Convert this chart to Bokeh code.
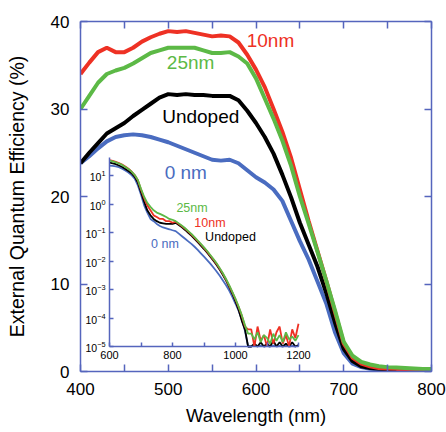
from bokeh.plotting import figure
from bokeh.models import Range1d, LogScale, LinearAxis, LogAxis, FixedTicker
from bokeh.core.properties import value
from bokeh.embed import file_html
from bokeh.resources import INLINE

# ---------------- data (main plot, EQE in %) ----------------
wavelength = list(range(400, 801, 10))
eqe_10nm = [34.0, 35.3, 36.5, 37.0, 36.5, 36.5, 37.0, 37.7, 38.2, 38.6,
            38.9, 38.8, 38.9, 38.7, 38.5, 38.3, 38.4, 38.3, 37.6, 36.2,
            34.5, 32.5, 30.0, 27.4, 24.4, 20.8, 17.2, 13.8, 10.4, 6.8,
            3.2, 1.6, 0.9, 0.6, 0.4, 0.35, 0.3, 0.3, 0.25, 0.25, 0.22]
eqe_25nm = [30.0, 31.5, 33.0, 34.0, 34.4, 34.7, 35.2, 35.8, 36.4, 36.7,
            37.0, 37.0, 37.0, 37.0, 36.7, 36.4, 36.4, 36.5, 36.0, 35.2,
            33.5, 31.2, 28.9, 26.4, 23.5, 20.0, 16.9, 13.7, 10.4, 7.0,
            3.4, 1.8, 1.1, 0.8, 0.6, 0.5, 0.45, 0.4, 0.35, 0.3, 0.28]
eqe_undoped = [23.8, 25.0, 26.1, 27.2, 27.8, 28.4, 29.2, 29.9, 30.6, 31.3,
               31.7, 31.6, 31.7, 31.6, 31.6, 31.5, 31.5, 31.5, 31.0, 29.8,
               28.4, 26.8, 24.9, 22.5, 19.9, 17.0, 14.5, 12.0, 9.0, 5.6,
               2.6, 1.2, 0.6, 0.4, 0.3, 0.25, 0.22, 0.21, 0.2, 0.2, 0.2]
eqe_0nm = [23.8, 24.6, 25.5, 26.3, 26.8, 27.0, 27.1, 27.0, 26.8, 26.5,
           26.2, 25.8, 25.4, 25.0, 24.6, 24.2, 24.1, 24.2, 23.8, 23.0,
           22.2, 21.6, 20.8, 19.5, 17.2, 14.9, 12.8, 10.3, 7.8, 4.5,
           2.1, 0.9, 0.5, 0.3, 0.25, 0.2, 0.17, 0.15, 0.14, 0.13, 0.12]

# ---------------- data (inset tail 810-1200 nm, log10 of EQE %) ----------------
inset_tail_wavelength = list(range(810, 1201, 10))
tail_10nm_log = [-0.62, -0.70, -0.78, -0.87, -0.97, -1.07, -1.18, -1.30, -1.42, -1.54,
                 -1.67, -1.81, -1.95, -2.10, -2.27, -2.45, -2.65, -2.87, -3.10, -3.35,
                 -3.62, -3.92, -4.30, -4.40, -4.40, -5.00, -4.30, -4.80, -4.60, -5.00,
                 -4.40, -4.90, -4.50, -4.30, -4.90, -4.60, -5.00, -4.40, -4.70, -4.20]
tail_25nm_log = [-0.60, -0.68, -0.76, -0.85, -0.95, -1.05, -1.16, -1.28, -1.40, -1.52,
                 -1.65, -1.79, -1.93, -2.08, -2.25, -2.43, -2.63, -2.85, -3.08, -3.33,
                 -3.60, -3.90, -4.25, -4.55, -4.55, -4.75, -4.50, -4.85, -4.60, -4.70,
                 -4.90, -4.55, -4.80, -4.60, -4.85, -4.50, -4.75, -4.65, -4.80, -4.60]
tail_undoped_log = [-0.66, -0.74, -0.82, -0.91, -1.01, -1.11, -1.22, -1.34, -1.46, -1.58,
                    -1.71, -1.85, -1.99, -2.14, -2.31, -2.49, -2.69, -2.92, -3.15, -3.42,
                    -3.72, -4.10, -4.40, -5.00, -5.00, -4.90, -5.00, -4.85, -5.00, -4.90,
                    -5.00, -4.80, -5.00, -4.85, -5.00, -4.90, -5.00, -4.85, -5.00, -4.95]
tail_0nm_log = [-0.95, -1.04, -1.13, -1.22, -1.31, -1.40, -1.50, -1.61, -1.73, -1.85,
                -1.97, -2.09, -2.23, -2.37, -2.52, -2.68, -2.85, -3.04, -3.26, -3.50,
                -3.75, -4.05, -4.45, -5.00, -5.00, -4.97, -5.00, -4.97, -5.00, -4.98,
                -5.00, -4.97, -5.00, -4.98, -5.00, -4.97, -5.00, -4.98, -5.00, -4.97]

x_ticks = [400, 500, 600, 700, 800]
x_minor_ticks = [450, 550, 650, 750]
y_ticks = [0, 10, 20, 30, 40]
inset_x_ticks = [600, 800, 1000, 1200]
inset_x_minor_ticks = [700, 900, 1100]
inset_y_ticks = [1e-5, 1e-4, 1e-3, 1e-2, 1e-1, 1e0, 1e1]

RED = "#ee3124"
GREEN = "#5cb946"
BLUE = "#4a6cc0"
BLACK = "#000000"
AXIS = "#5565bd"
FONT = "Liberation Sans"

p = figure(frame_width=351, frame_height=350,
           x_range=Range1d(400, 800), y_range=Range1d(0, 40),
           output_backend="svg", toolbar_location=None,
           min_border_left=80, min_border_top=21, min_border_right=15, min_border_bottom=61,
           x_axis_label="Wavelength (nm)", y_axis_label="External Quantum Efficiency (%)")
p.outline_line_color = None
p.xgrid.visible = False
p.ygrid.visible = False
p.background_fill_color = "white"
p.border_fill_color = "white"

def style_axis(ax):
    ax.axis_line_color = AXIS
    ax.axis_line_width = 1.5
    ax.major_tick_line_color = AXIS
    ax.minor_tick_line_color = AXIS
    ax.major_tick_line_width = 1.5
    ax.minor_tick_line_width = 1.5
    ax.major_tick_in = 7
    ax.major_tick_out = 0
    ax.minor_tick_in = 7
    ax.minor_tick_out = 0
    ax.major_label_text_font = FONT
    ax.major_label_text_font_size = "17px"
    ax.major_label_text_color = "black"
    ax.major_label_standoff = 9
    ax.axis_label_text_font = FONT
    ax.axis_label_text_font_style = "normal"
    ax.axis_label_text_color = "black"

xax = p.xaxis[0]
xax.ticker = FixedTicker(ticks=x_ticks, minor_ticks=x_minor_ticks)
style_axis(xax)
xax.major_label_standoff = 11
xax.axis_label_text_font_size = "18.5px"
xax.axis_label_standoff = 7

yax = p.yaxis[0]
yax.ticker = FixedTicker(ticks=y_ticks, minor_ticks=[])
style_axis(yax)
yax.axis_label_text_font_size = "19.5px"
yax.axis_label_standoff = 20
yax.major_label_standoff = 11

# top / right frame axes: ticks only (drawn as unlabeled minor ticks)
top = LinearAxis(ticker=FixedTicker(ticks=[], minor_ticks=x_ticks + x_minor_ticks))
style_axis(top)
top.major_label_standoff = 0
p.add_layout(top, "above")
right = LinearAxis(ticker=FixedTicker(ticks=[], minor_ticks=y_ticks))
style_axis(right)
right.major_label_standoff = 0
p.add_layout(right, "right")

# main curves
p.line(wavelength, eqe_0nm, line_color=BLUE, line_width=4)
p.line(wavelength, eqe_undoped, line_color=BLACK, line_width=4)
p.line(wavelength, eqe_10nm, line_color=RED, line_width=4)
p.line(wavelength, eqe_25nm, line_color=GREEN, line_width=4)

txt = dict(text_font=value(FONT), text_font_size="19px", text_align="center", text_baseline="middle")
p.text(x=[616.5], y=[37.8], text=["10nm"], text_color=RED, **txt)
p.text(x=[525.5], y=[35.35], text=["25nm"], text_color=GREEN, **txt)
p.text(x=[537], y=[29.2], text=["Undoped"], text_color=BLACK, **txt)
p.text(x=[520], y=[22.8], text=["0 nm"], text_color=BLUE, **txt)

# ---------------- inset (log scale) ----------------
p.extra_x_ranges = {"ix": Range1d(507.9, 1622.2)}
p.extra_y_ranges = {"iy": Range1d(10 ** -5.877, 10 ** 6.404)}
p.extra_y_scales = {"iy": LogScale()}

ins_x = wavelength[20:] + inset_tail_wavelength
def ins_y(main, tail):
    return main[20:] + [10 ** v for v in tail]

p.line(ins_x, ins_y(eqe_0nm, tail_0nm_log), line_color=BLUE, line_width=1.8, x_range_name="ix", y_range_name="iy")
p.line(ins_x, ins_y(eqe_undoped, tail_undoped_log), line_color=BLACK, line_width=1.8, x_range_name="ix", y_range_name="iy")
p.line(ins_x, ins_y(eqe_10nm, tail_10nm_log), line_color=RED, line_width=1.8, x_range_name="ix", y_range_name="iy")
p.line(ins_x, ins_y(eqe_25nm, tail_25nm_log), line_color=GREEN, line_width=1.8, x_range_name="ix", y_range_name="iy")

ix_axis = LinearAxis(x_range_name="ix", y_range_name="iy", fixed_location=1e-5, bounds=(600, 1200),
                     ticker=FixedTicker(ticks=inset_x_ticks, minor_ticks=inset_x_minor_ticks))
style_axis(ix_axis)
ix_axis.major_tick_in = 4
ix_axis.minor_tick_in = 4
ix_axis.major_label_text_font_size = "11px"
ix_axis.major_label_standoff = 4
p.add_layout(ix_axis, "below")

iy_axis = LogAxis(x_range_name="ix", y_range_name="iy", fixed_location=600, bounds=(1e-5, 42),
                  ticker=FixedTicker(ticks=inset_y_ticks, minor_ticks=[]))
style_axis(iy_axis)
iy_axis.major_tick_in = 4
iy_axis.minor_tick_in = 0
iy_axis.major_label_text_font_size = "10.5px"
iy_axis.major_label_standoff = 4
p.add_layout(iy_axis, "left")

itxt = dict(text_font=value(FONT), text_font_size="12.5px", text_align="center", text_baseline="middle",
            x_range_name="ix", y_range_name="iy")
p.text(x=[862], y=[0.70], text=["25nm"], text_color=GREEN, **itxt)
p.text(x=[919], y=[0.215], text=["10nm"], text_color=RED, **itxt)
p.text(x=[984], y=[0.072], text=["Undoped"], text_color=BLACK, **itxt)
p.text(x=[776], y=[0.041], text=["0 nm"], text_color=BLUE, **itxt)

open("out.html", "w").write(file_html(p, INLINE))
